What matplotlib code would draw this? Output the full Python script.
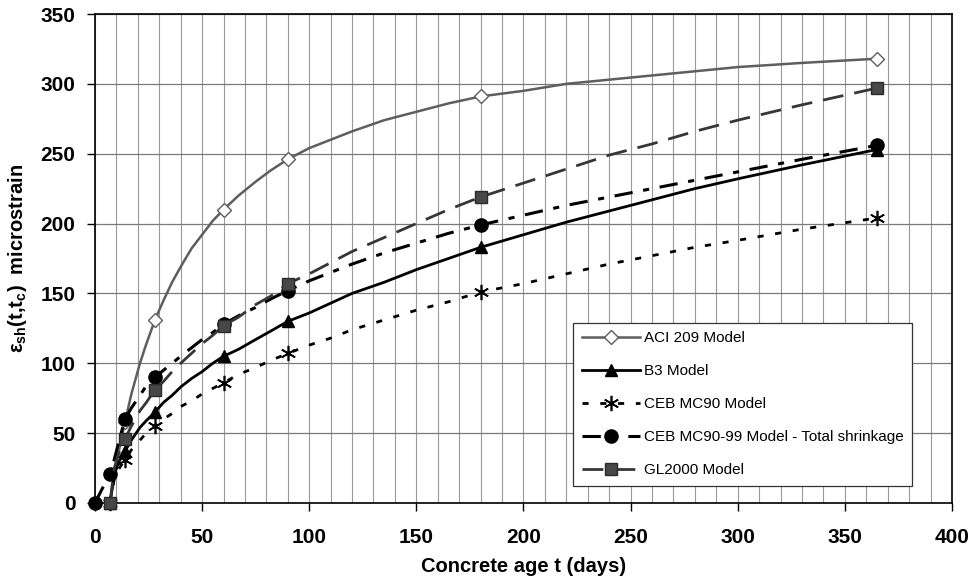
import matplotlib
matplotlib.use("Agg")
import matplotlib.pyplot as plt
import numpy as np
from matplotlib.ticker import MultipleLocator

plt.rcParams["font.family"] = ["Liberation Sans", "DejaVu Sans"]
plt.rcParams["mathtext.fontset"] = "custom"
plt.rcParams["mathtext.rm"] = "Liberation Sans:bold"
plt.rcParams["mathtext.it"] = "Liberation Sans:bold"
plt.rcParams["mathtext.bf"] = "Liberation Sans:bold"

nan = np.nan

# Concrete age (days) at which each prediction curve is read
DAYS = [0, 7, 9, 11, 14, 17, 21, 24, 28, 32, 36, 40, 45, 50, 55, 60, 67, 75, 82,
        90, 100, 110, 120, 135, 150, 165, 180, 200, 220, 240, 260, 280, 300, 330, 365]

# Shrinkage strain, microstrain
ACI209 = [nan, 0, 19, 36, 58, 78, 100, 114, 131, 145, 158, 169, 182, 192, 202, 210, 220,
          230, 238, 246, 254, 260, 266, 274, 280, 286, 291, 295, 300, 303, 306, 309, 312,
          315, 318]
B3 = [nan, 0, 20, 29, 37, 45, 54, 59, 65, 72, 77, 83, 89, 94, 100, 105, 110, 117, 123,
      130, 136, 143, 150, 158, 167, 175, 183, 192, 201, 209, 217, 225, 232, 242, 253]
MC90 = [nan, 0, 17, 24, 31, 38, 45, 50, 55, 60, 64, 69, 73, 78, 82, 86, 92, 97, 102,
        107, 113, 118, 124, 131, 138, 144, 151, 157, 164, 171, 177, 183, 188, 196, 204]
MC90_99 = [0, 21, 31, 43, 60, 68, 77, 84, 90, 95, 100, 105, 111, 117, 122, 128, 134,
           140, 146, 152, 159, 165, 171, 179, 186, 193, 199, 206, 213, 219, 225, 231,
           237, 246, 256]
GL2000 = [nan, 0, 25, 35, 46, 55, 66, 72, 81, 87, 94, 100, 107, 114, 120, 127, 133,
          142, 148, 157, 164, 172, 180, 190, 200, 210, 219, 229, 239, 249, 257, 266,
          274, 285, 297]

# ages where the computed points are marked
MARK_DAYS = [0, 7, 14, 28, 60, 90, 180, 365]


def marks(values, skip=()):
    return [i for i, d in enumerate(DAYS)
            if d in MARK_DAYS and d not in skip and not np.isnan(values[i])]


fig = plt.figure(figsize=(9.72, 5.81), dpi=100)
ax = fig.add_axes([0.0977, 0.1343, 0.8817, 0.8416])

ax.plot(DAYS, ACI209, color="#5e5e5e", lw=1.8, marker="D", ms=7.5,
        mfc="white", mec="#5e5e5e", mew=1.0, markevery=marks(ACI209, skip=(7,)),
        label="ACI 209 Model", clip_on=False, zorder=3)
ax.plot(DAYS, B3, color="black", lw=2.0, marker="^", ms=9,
        markevery=marks(B3), label="B3 Model", clip_on=False, zorder=3)
ax.plot(DAYS, MC90, color="black", lw=2.0, dashes=(2.2, 4.2), marker=(6, 2, 0),
        ms=11, mew=1.2, markevery=marks(MC90), label="CEB MC90 Model",
        clip_on=False, zorder=3)
ax.plot(DAYS, MC90_99, color="black", lw=2.2, dashes=(6, 3.5, 2, 3.5), marker="o",
        ms=9.5, markevery=marks(MC90_99),
        label="CEB MC90-99 Model - Total shrinkage", clip_on=False, zorder=3)
ax.plot(DAYS, GL2000, color="#363636", lw=2.0, dashes=(7.5, 4), marker="s",
        ms=8, mfc="#474747", mec="#2a2a2a", markevery=marks(GL2000),
        label="GL2000 Model", clip_on=False, zorder=3)

ax.set_xlim(0, 400)
ax.set_ylim(0, 350)
ax.xaxis.set_major_locator(MultipleLocator(50))
ax.xaxis.set_minor_locator(MultipleLocator(10))
ax.yaxis.set_major_locator(MultipleLocator(50))

ax.grid(axis="x", which="both", color="#9a9a9a", lw=0.8, zorder=0)
ax.grid(axis="y", which="major", color="#7a7a7a", lw=0.9, zorder=0)
ax.set_axisbelow(True)

ax.tick_params(axis="both", which="major", direction="out", length=6,
               width=1.0, labelsize=15)
ax.tick_params(axis="x", which="major", pad=12)
ax.tick_params(axis="y", which="major", pad=8)
ax.tick_params(axis="x", which="minor", length=0)
for lab in ax.get_xticklabels() + ax.get_yticklabels():
    lab.set_fontweight("bold")

for side in ("left", "bottom", "top", "right"):
    ax.spines[side].set_color("black")
    ax.spines[side].set_linewidth(1.2)

ax.set_xlabel("Concrete age t (days)", fontsize=14.5, fontweight="bold", labelpad=7)
ax.set_ylabel(r"ε$_{\mathrm{sh}}$(t,t$_{\mathrm{c}}$)  microstrain",
              fontsize=14.5, fontweight="bold", labelpad=8)

leg = ax.legend(loc="lower left", bbox_to_anchor=(0.558, 0.035), fontsize=11,
                handlelength=3.8, handletextpad=0.3, labelspacing=1.25,
                borderpad=0.55, fancybox=False, framealpha=1, edgecolor="#333333",
                borderaxespad=0)
leg.get_frame().set_linewidth(0.9)

fig.savefig("out.png", dpi=100)
